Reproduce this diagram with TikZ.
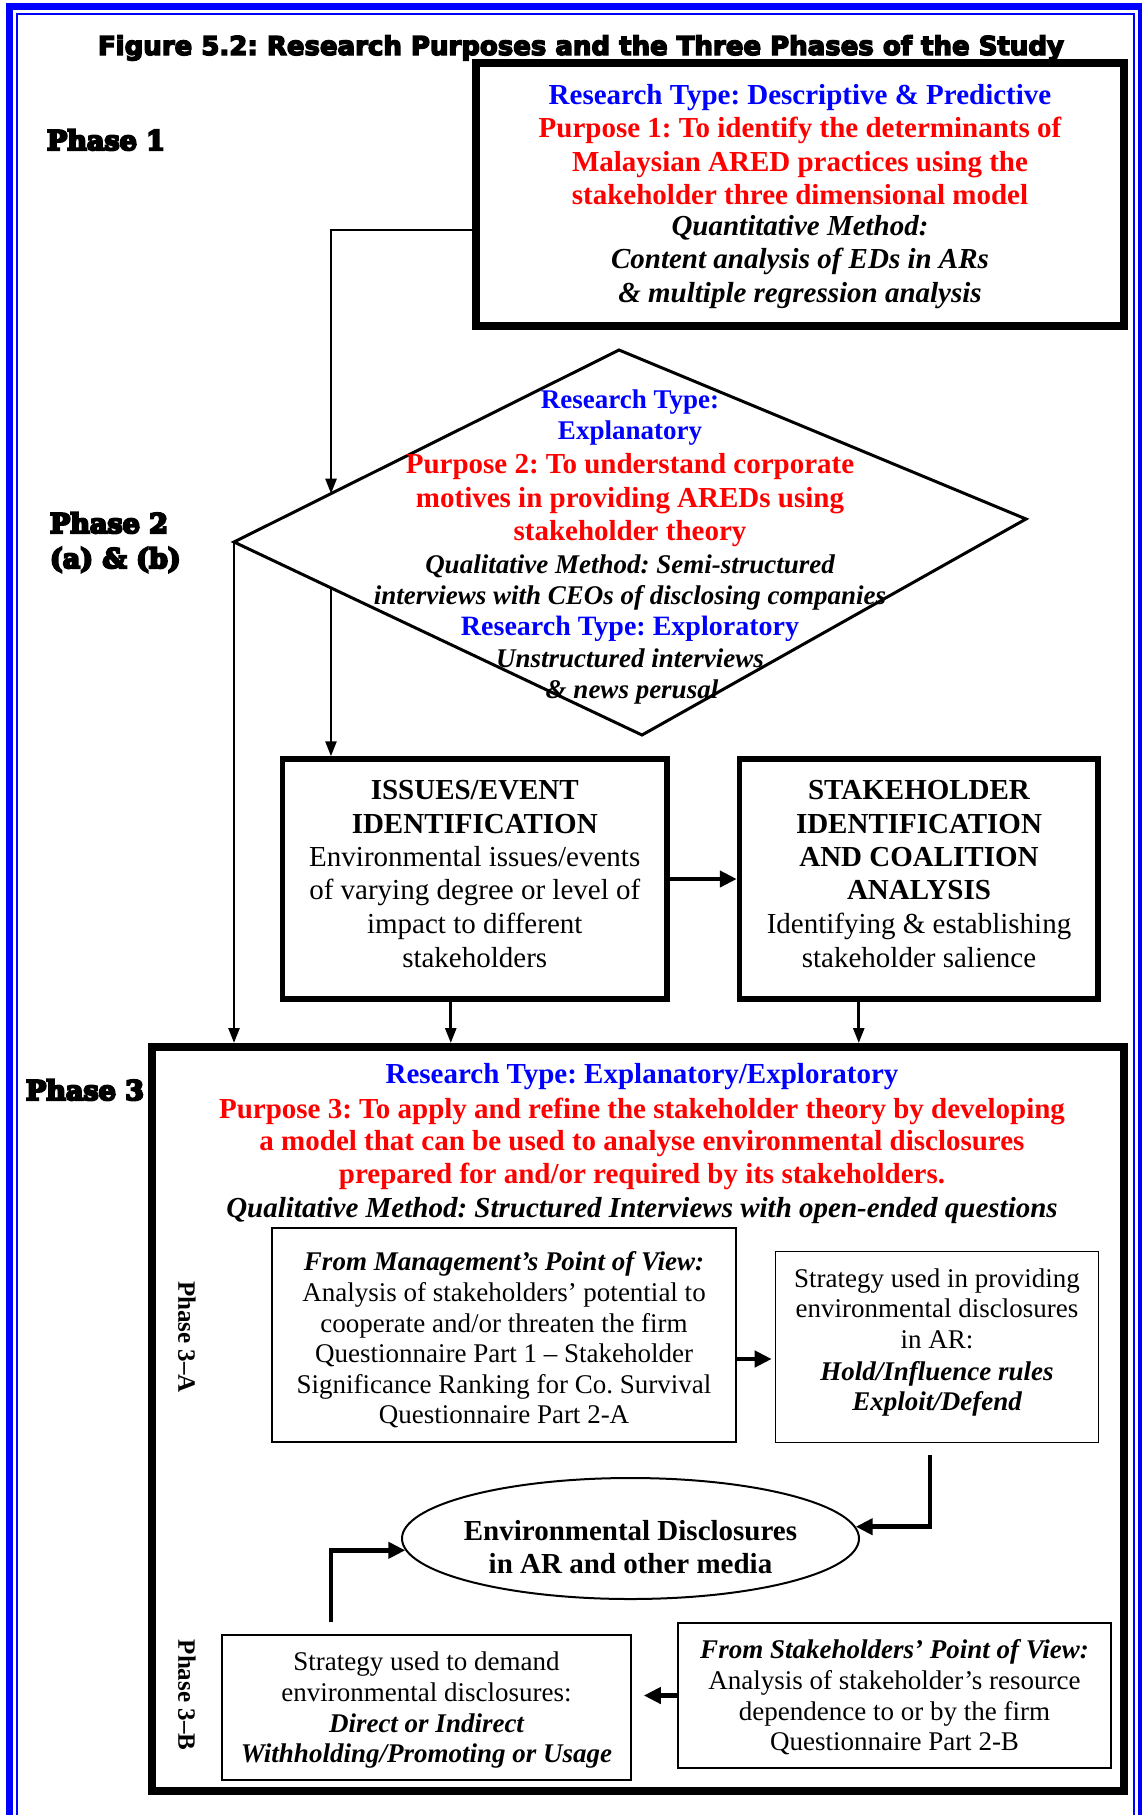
\documentclass[tikz,border=0pt]{standalone}
\usepackage{fontspec}
\setmainfont{Liberation Serif}
\newfontfamily\titlefont{DejaVu Sans}[FakeBold=5.5]
\newfontfamily\phasefont{DejaVu Serif}[FakeBold=8]
\usetikzlibrary{arrows.meta,calc,shapes.geometric}
\frenchspacing

\newcommand\fsL{\fontsize{29}{33}\selectfont}
\newcommand\fsM{\fontsize{28}{32}\selectfont}
\newcommand\fsS{\fontsize{27}{31}\selectfont}

\begin{document}
\begin{tikzpicture}[x=1pt,y=-1pt,
  txt/.style={anchor=base, inner sep=0pt, outer sep=0pt},
  typeL/.style={txt, font=\fsL\bfseries, text=blue},
  typeM/.style={txt, font=\fsM\bfseries, text=blue},
  typeS/.style={txt, font=\fsS\bfseries, text=blue},
  purp/.style={txt, font=\fsL\bfseries, text=red},
  methL/.style={txt, font=\fsL\bfseries\itshape},
  methS/.style={txt, font=\fsS\bfseries\itshape},
  headL/.style={txt, font=\fsL\bfseries},
  bodyL/.style={txt, font=\fsL},
  bodyS/.style={txt, font=\fsS},
  phase/.style={txt, anchor=base west, font=\phasefont\fontsize{27}{30}\selectfont\bfseries},
  subphase/.style={inner sep=0pt, rotate=-90, font=\fontsize{25}{28}\selectfont\bfseries},
  heavybox/.style={draw, line width=8pt, inner sep=0pt},
  midbox/.style={draw, line width=5.5pt, inner sep=0pt},
  thinbox/.style={draw, line width=1.6pt, inner sep=0pt},
  conn/.style={line width=2.6pt, -{Triangle[length=15pt,width=11pt]}},
  fat/.style={line width=4.5pt, -{Triangle[length=17pt,width=16pt]}},
  frameout/.style={draw=blue, line width=7pt},
  framein/.style={draw=blue, line width=2.2pt}
]
\useasboundingbox (0,0) rectangle (1141,1815);

% page frame (double blue rule, open at the foot)
\draw[frameout] (9.5,1830) -- (9.5,6.5) -- (1141.5,6.5) -- (1141.5,1830);
\draw[framein] (17,1830) -- (17,14) -- (1134,14) -- (1134,1830);

% ---------- boxes ----------
\node[heavybox, minimum width=648, minimum height=263] (b1) at (800,194.5) {};
\node[midbox, minimum width=384.5, minimum height=240] (ib) at (474.75,879) {};
\node[midbox, minimum width=358.5, minimum height=240] (sb) at (918.75,879) {};
\node[heavybox, minimum width=972, minimum height=744] (p3) at (638,1419) {};
\node[thinbox, minimum width=464, minimum height=214] (mg) at (504,1335) {};
\node[thinbox, minimum width=323, minimum height=191] (st) at (937,1347) {};
\node[ellipse, draw, line width=2pt, inner sep=0pt, minimum width=457, minimum height=121] (el) at (630.5,1538.5) {};
\node[thinbox, minimum width=433, minimum height=145] (sv) at (894.5,1695.5) {};
\node[thinbox, minimum width=409, minimum height=145] (dm) at (426.5,1707.5) {};

% phase 2 diamond
\coordinate (dt) at (619,350);
\coordinate (dr) at (1026,519);
\coordinate (db) at (642,735);
\coordinate (dl) at (234,542);
\draw[line width=3pt, line join=miter] (dt) -- (dr) -- (db) -- (dl) -- cycle;

% ---------- connectors ----------
\coordinate (e1) at ($(dl)!0.252!(dt)$);
\coordinate (e2) at ($(dl)!0.2377!(db)$);
\draw[conn] ($(b1.west)+(0,35.5)$) -| (e1);
\draw[conn] (e2) -- (e2 |- ib.north);
\draw[conn] (dl) -- (dl |- p3.north);
\coordinate (ibo) at ($(ib.south)+(-24,0)$);
\draw[conn] (ibo) -- (ibo |- p3.north);
\coordinate (sbo) at ($(sb.south)+(-60,0)$);
\draw[conn] (sbo) -- (sbo |- p3.north);
\draw[fat] (ib.east) -- (sb.west);
\coordinate (mgo) at ($(mg.east)+(0,24)$);
\draw[fat, shorten >=3pt] (mgo) -- (mgo -| st.west);
\coordinate (sto) at ($(st.south)+(-7,12)$);
\draw[fat] (sto) |- (el.3);
\coordinate (dmo) at ($(dm.north)+(-95.5,-12)$);
\draw[fat] (dmo) |- (el.183);
\draw[fat, shorten >=12pt] (sv.west) -- (sv.west -| dm.east);

% ---------- title and phase labels ----------
\node[txt, font=\titlefont\fontsize{26}{30}\selectfont\bfseries] (title) at (581,55)
  {Figure 5.2: Research Purposes and the Three Phases of the Study};
\node[phase] (ph1) at (47,150) {Phase 1};
\node[phase] (ph2) at (50,533) {Phase 2};
\node[phase] (ph2b) at (50,568) {(a) \& (b)};
\node[phase] (ph3) at (26,1100) {Phase 3};
\node[subphase] (ph3a) at (187,1337) {Phase 3–A};
\node[subphase] (ph3b) at (187,1695) {Phase 3–B};

% ---------- phase 1 box text ----------
\node[typeL] (t1a) at (800,104) {Research Type: Descriptive \& Predictive};
\node[purp]  (t1b) at (800,137) {Purpose 1: To identify the determinants of};
\node[purp]  (t1c) at (800,171) {Malaysian ARED practices using the};
\node[purp]  (t1d) at (800,204) {stakeholder three dimensional model};
\node[methL] (t1e) at (800,235) {Quantitative Method:};
\node[methL] (t1f) at (800,268) {Content analysis of EDs in ARs};
\node[methL] (t1g) at (800,302) {\& multiple regression analysis};

% ---------- diamond text ----------
\node[typeS] (t2a) at (630,408) {Research Type:};
\node[typeS] (t2b) at (630,439) {Explanatory};
\node[purp]  (t2c) at (630,473) {Purpose 2: To understand corporate};
\node[purp]  (t2d) at (630,507) {motives in providing AREDs using};
\node[purp]  (t2e) at (630,540) {stakeholder theory};
\node[methS] (t2f) at (630,573) {Qualitative Method: Semi-structured};
\node[methS] (t2g) at (630,604) {interviews with CEOs of disclosing companies};
\node[typeM] (t2h) at (630,635) {Research Type: Exploratory};
\node[methS] (t2i) at (630,667) {Unstructured interviews};
\node[methS] (t2j) at (632,698) {\& news perusal};

% ---------- issues / stakeholder boxes ----------
\node[headL] (ia) at (474.75,799) {ISSUES/EVENT};
\node[headL] (ib2) at (474.75,833) {IDENTIFICATION};
\node[bodyL] (ic) at (474.75,866) {Environmental issues/events};
\node[bodyL] (id) at (474.75,899) {of varying degree or level of};
\node[bodyL] (ie) at (474.75,933) {impact to different};
\node[bodyL] (if) at (474.75,967) {stakeholders};

\node[headL] (sa) at (919,799) {STAKEHOLDER};
\node[headL] (sb2) at (919,833) {IDENTIFICATION};
\node[headL] (sc) at (919,866) {AND COALITION};
\node[headL] (sd) at (919,899) {ANALYSIS};
\node[bodyL] (se) at (919,933) {Identifying \& establishing};
\node[bodyL] (sf) at (919,967) {stakeholder salience};

% ---------- phase 3 heading ----------
\node[typeL] (t3a) at (642,1083) {Research Type: Explanatory/Exploratory};
\node[purp]  (t3b) at (642,1118) {Purpose 3: To apply and refine the stakeholder theory by developing};
\node[purp]  (t3c) at (642,1150) {a model that can be used to analyse environmental disclosures};
\node[purp]  (t3d) at (642,1183) {prepared for and/or required by its stakeholders.};
\node[methL] (t3e) at (642,1217) {Qualitative Method: Structured Interviews with open-ended questions};

% ---------- phase 3-A ----------
\node[methS] (ma) at (504,1270) {From Management’s Point of View:};
\node[bodyS] (mb) at (504,1301) {Analysis of stakeholders’ potential to};
\node[bodyS] (mc) at (504,1332) {cooperate and/or threaten the firm};
\node[bodyS] (md) at (504,1362) {Questionnaire Part 1 – Stakeholder};
\node[bodyS] (me) at (504,1393) {Significance Ranking for Co. Survival};
\node[bodyS] (mf) at (504,1423) {Questionnaire Part 2-A};

\node[bodyS] (sta) at (937,1287) {Strategy used in providing};
\node[bodyS] (stb) at (937,1317) {environmental disclosures};
\node[bodyS] (stc) at (937,1348) {in AR:};
\node[methS] (std) at (937,1380) {Hold/Influence rules};
\node[methS] (ste) at (937,1410) {Exploit/Defend};

% ---------- disclosures ellipse ----------
\node[headL] (ea) at (630.5,1540) {Environmental Disclosures};
\node[headL] (eb) at (630.5,1573) {in AR and other media};

% ---------- phase 3-B ----------
\node[methS] (va) at (894.5,1658) {From Stakeholders’ Point of View:};
\node[bodyS] (vb) at (894.5,1689) {Analysis of stakeholder’s resource};
\node[bodyS] (vc) at (894.5,1720) {dependence to or by the firm};
\node[bodyS] (vd) at (894.5,1750) {Questionnaire Part 2-B};

\node[bodyS] (da) at (426.5,1670) {Strategy used to demand};
\node[bodyS] (db2) at (426.5,1701) {environmental disclosures:};
\node[methS] (dc) at (426.5,1732) {Direct or Indirect};
\node[methS] (dd) at (426.5,1762) {Withholding/Promoting or Usage};
\end{tikzpicture}
\end{document}
